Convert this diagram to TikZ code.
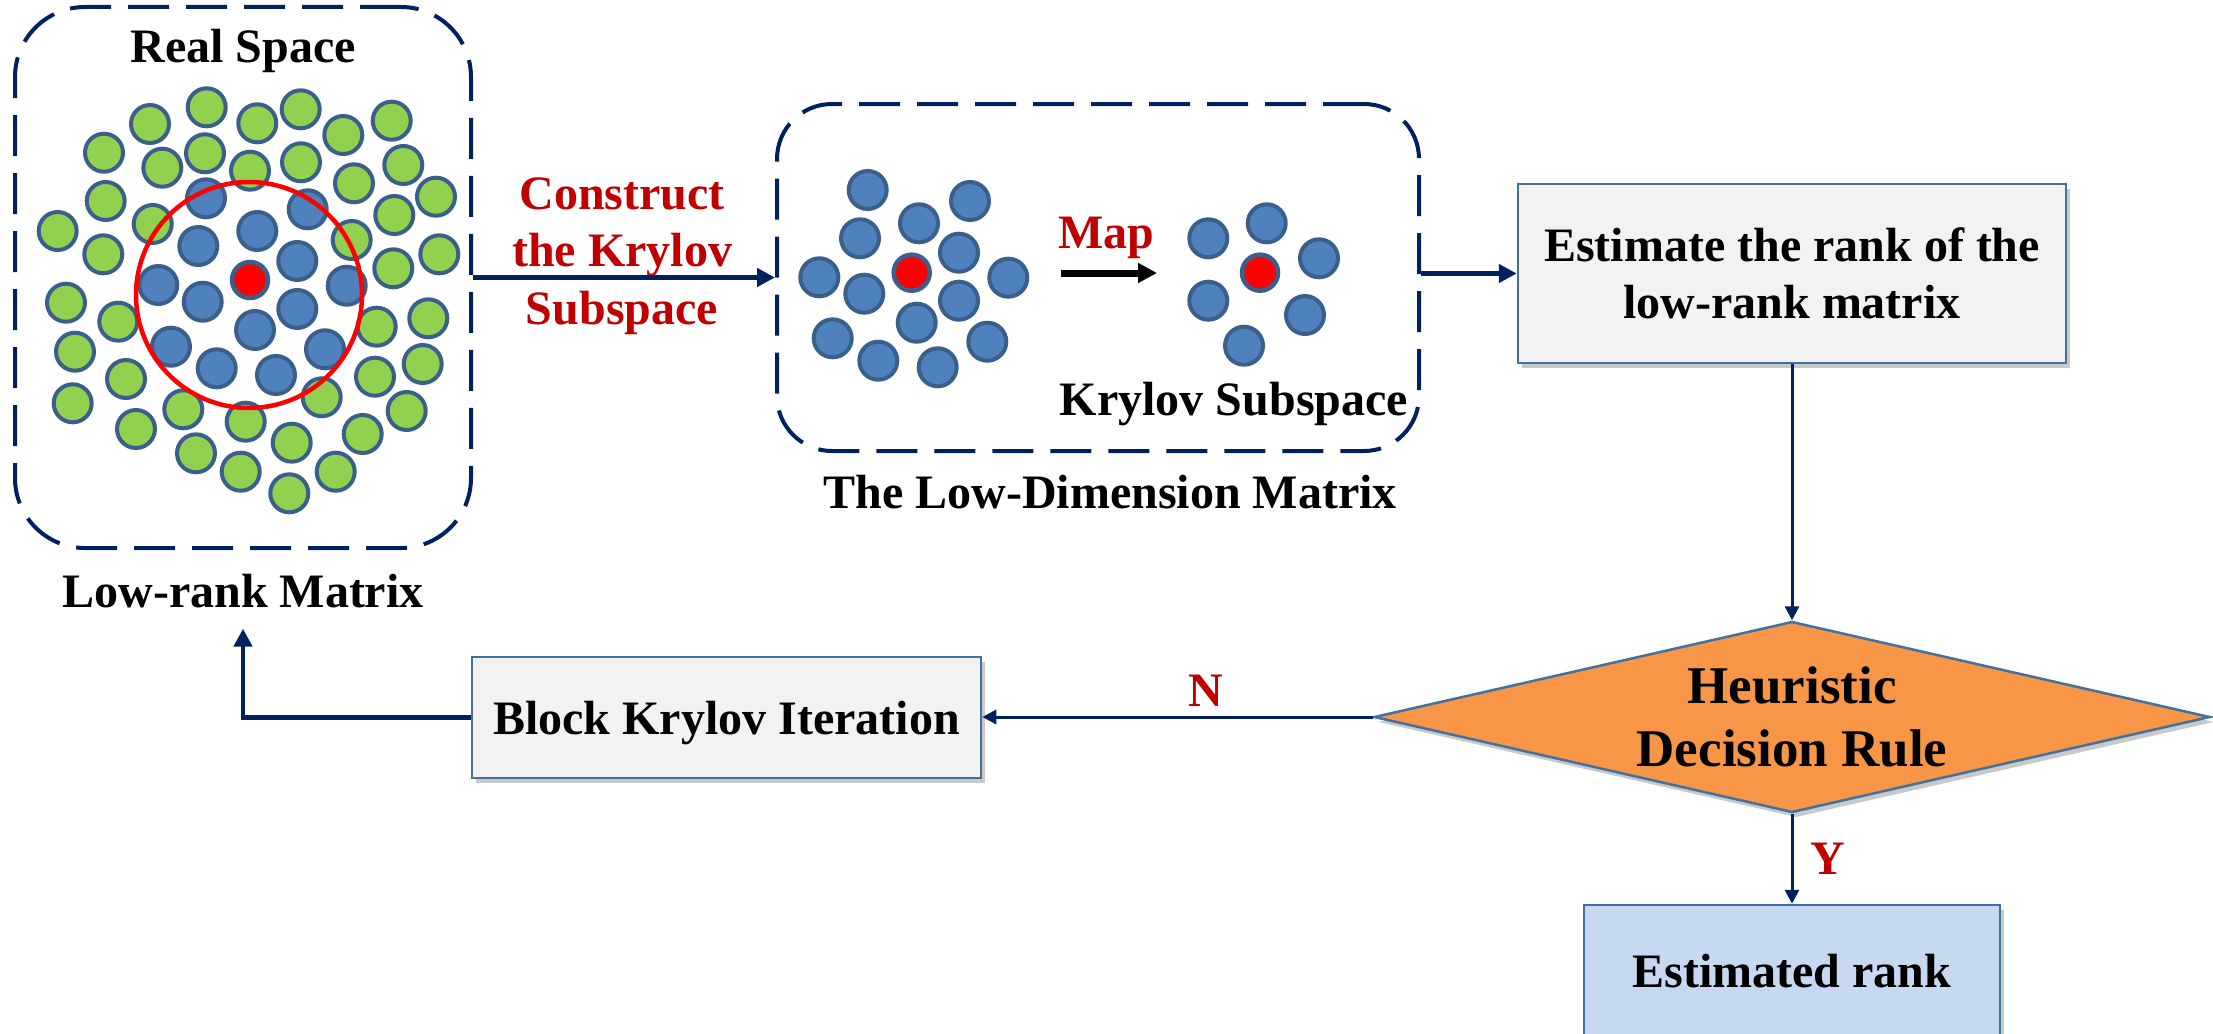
\documentclass[tikz,border=0pt]{standalone}
\usepackage{fontspec}
\setmainfont{Liberation Serif}
\usetikzlibrary{shapes.geometric,arrows.meta,shadows,calc}
\definecolor{navy}{HTML}{002060}
\definecolor{cborder}{HTML}{3A5F8B}
\definecolor{cgreen}{HTML}{92D050}
\definecolor{cblue}{HTML}{4F81BD}
\definecolor{dred}{HTML}{C00000}
\definecolor{boxgray}{HTML}{F2F2F2}
\definecolor{boxline}{HTML}{41719C}
\definecolor{orangefill}{HTML}{F79646}
\definecolor{lightblue}{HTML}{C6D9F1}
\begin{document}
\begin{tikzpicture}[x=1pt,y=-1pt,
  txt/.style={font=\fontsize{48}{57.5}\selectfont\bfseries, inner sep=0pt, align=center},
  redtxt/.style={txt, text=dred},
  dashbox/.style={draw=navy, line width=4pt, dash pattern=on 41pt off 17pt, inner sep=0pt},
  gdot/.style={draw=cborder, fill=cgreen, line width=4pt},
  bdot/.style={draw=cborder, fill=cblue, line width=4pt},
  rdot/.style={draw=cborder, fill=red, line width=4.5pt},
  shade/.style={drop shadow={shadow xshift=4pt, shadow yshift=-5pt, opacity=0.3, fill=black!70}},
  procbox/.style={draw=boxline, line width=2.5pt, fill=boxgray, inner sep=0pt, shade,
     font=\fontsize{48}{57}\selectfont\bfseries, align=center},
  thickarrow/.style={draw=navy, line width=4.5pt, -{Triangle[length=18pt,width=18pt]}},
  thinarrow/.style={draw=navy, line width=3pt, -{Triangle[length=14pt,width=14pt]}}
]
\useasboundingbox (0,0) rectangle (2213,1033);

% ---------- left: real space ----------
\node[dashbox, rounded corners=70pt, minimum width=456pt, minimum height=541pt] (real) at (243,277.5) {};
\foreach \x/\y in {206.7/107.3, 150/124, 257.3/123.3, 300.7/109.3, 343.3/135, 391.7/120.7,
  104/152.7, 162.3/167.7, 205/153.3, 250/170.7, 301/162.3, 354/183.3, 403.3/165, 436/196.7,
  105.7/201, 152.7/224, 57.7/231, 394.3/215, 351.7/240, 103.3/254.3, 393.3/268.3, 439.3/254.3,
  66/302.7, 118.3/321.7, 376.7/326.7, 428.3/318.3, 75/351.7, 126/379, 375/376.7, 422.7/364,
  72.7/403.3, 183.3/409.3, 245.7/421.7, 321.7/397.3, 406.7/411, 136/429, 196/453.3,
  291.7/442.7, 362.7/434, 240.7/471.7, 335.7/471.7, 289.3/493.3}
  \draw[gdot] (\x,\y) circle[radius=19pt];
\foreach \x/\y in {206/198.3, 307.7/209.3, 257.3/231, 198.3/246, 297.3/261, 158.3/285,
  202.7/301.7, 346.7/285.7, 297.3/309, 255/330, 171/346.7, 325/349.3, 216.7/368.3, 276/375}
  \draw[bdot] (\x,\y) circle[radius=19pt];
\draw[rdot] (250,280) circle[radius=18pt];
\draw[red, line width=4.5pt] (249,295) circle[radius=113pt];
\node[txt, anchor=base] (rslab) at (243,63) {Real Space};
\node[txt, anchor=base] (lrlab) at (243,607) {Low-rank Matrix};

% ---------- middle: low-dimension matrix ----------
\node[dashbox, rounded corners=55pt, minimum width=642pt, minimum height=347pt] (mid) at (1098,277.5) {};
\foreach \x/\y in {867.7/190, 970/201, 919/223.3, 860/238.3, 959/252.7, 819.3/277.3,
  1008.3/277.7, 864.3/293.7, 959/300.7, 916.7/322.7, 832.7/338.3, 987.3/341.7,
  878.3/360.7, 937.7/367.3,
  1208.3/238.3, 1266.7/223.3, 1319/258.3, 1208.3/300.7, 1305/315, 1244/345.7}
  \draw[bdot] (\x,\y) circle[radius=19pt];
\draw[rdot] (911.7,272.7) circle[radius=18pt];
\draw[rdot] (1260,272.7) circle[radius=18pt];
\coordinate (mapS) at (1061,273);
\coordinate (mapE) at (1157,273);
\draw[black, line width=7pt, -{Triangle[length=19pt,width=19pt]}] (mapS) -- (mapE);
\node[redtxt, anchor=base] (maplab) at (1106,248) {Map};
\node[txt, anchor=base] (kslab) at (1234,415) {Krylov Subspace};
\node[txt, anchor=base] (ldlab) at (1110,508) {The Low-Dimension Matrix};

% ---------- construct label ----------
\node[redtxt] (conlab) at (622,256) {Construct\\the Krylov\\Subspace};

% ---------- process boxes ----------
\node[procbox, minimum width=548pt, minimum height=179pt] (est) at (1792,273.5)
  {Estimate the rank of the\\low-rank matrix};
\node[draw=boxline, line width=2.5pt, fill=orangefill, diamond, minimum width=836pt,
  minimum height=191pt, inner sep=0pt, shade] (dec) at (1792,717) {};
\node[font=\fontsize{53}{63}\selectfont\bfseries, align=center, inner sep=0pt] (dectxt) at (1792,717)
  {Heuristic\\Decision Rule};
\node[procbox, minimum width=509pt, minimum height=121pt, text height=33pt, text depth=0pt]
  (block) at (726.5,717.5) {Block Krylov Iteration};
\node[procbox, fill=lightblue, minimum width=416pt, minimum height=140pt, text height=33pt,
  text depth=9pt] (rank) at (1792,975) {Estimated rank};

% ---------- connectors ----------
\draw[thickarrow] (real.east) -- (mid.west);
\draw[thickarrow] (mid.east |- est.west) -- (est.west);
\draw[thinarrow] (est.south) -- (dec.north);
\draw[thinarrow] (dec.south) -- (rank.north);
\draw[thinarrow] (dec.west) -- (dec.west -| block.east);
\draw[thickarrow] (block.west) -| ($(lrlab.south)+(0,21)$);
\node[redtxt] (nlab) at (1206,691) {N};
\node[redtxt] (ylab) at (1828,859) {Y};
\end{tikzpicture}
\end{document}
